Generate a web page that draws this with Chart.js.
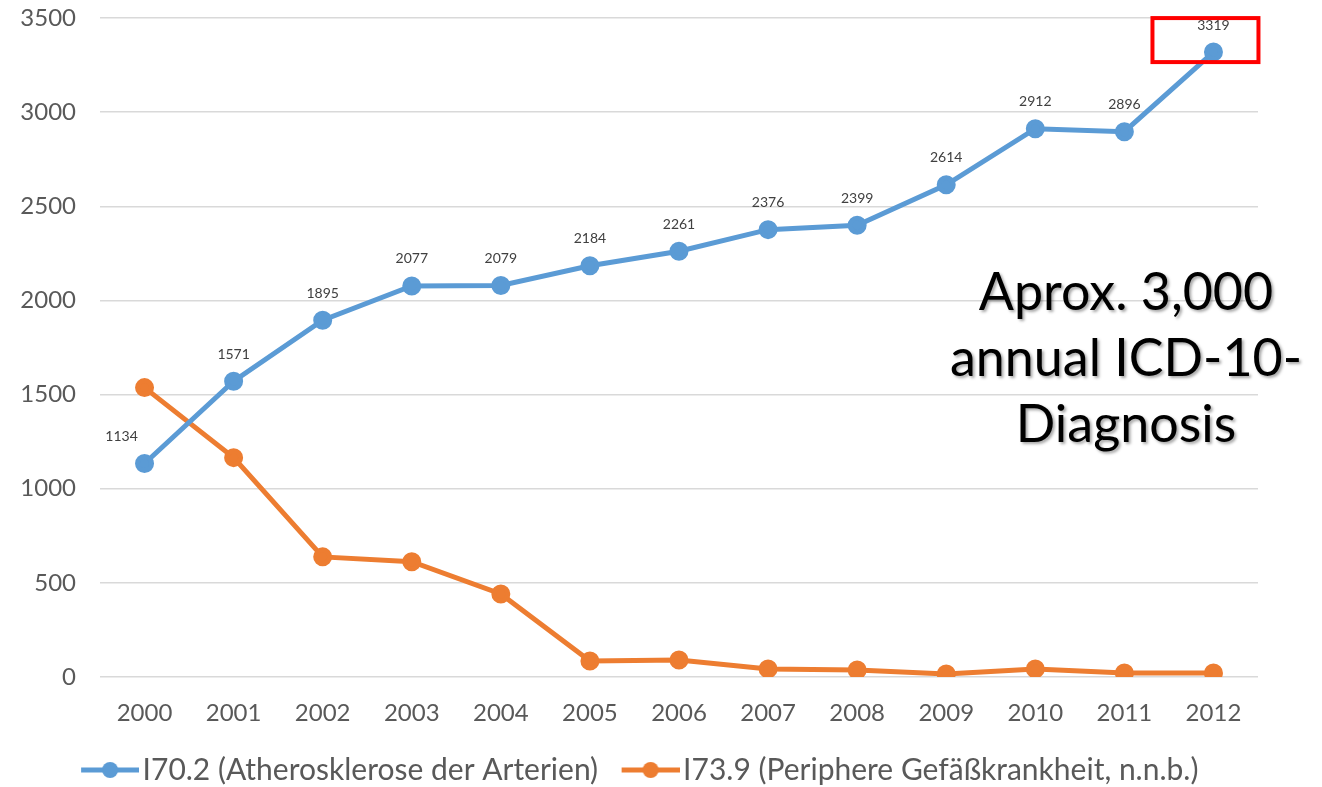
<!DOCTYPE html>
<html>
<head>
<meta charset="utf-8">
<title>I70.2 / I73.9</title>
<script src="https://cdn.jsdelivr.net/npm/chart.js@4.4.1/dist/chart.umd.min.js"></script>
<style>
  html, body { margin: 0; padding: 0; background: #fff; }
  #wrap { width: 1322px; height: 787px; }
</style>
</head>
<body>
<div id="wrap"><canvas id="canvas" width="1322" height="787"></canvas></div>
<script>
// yearly counts of ICD-10 diagnoses
const years = ['2000','2001','2002','2003','2004','2005','2006','2007','2008','2009','2010','2011','2012'];
const athero = [1134, 1571, 1895, 2077, 2079, 2184, 2261, 2376, 2399, 2614, 2912, 2896, 3319];
const peripher = [1537, 1165, 638, 612, 441, 85, 90, 43, 37, 16, 43, 21, 21];
const seriesNames = ['I70.2 (Atherosklerose der Arterien)', 'I73.9 (Periphere Gefäßkrankheit, n.n.b.)'];
const yTicks = [0, 500, 1000, 1500, 2000, 2500, 3000, 3500];
const noteLines = ['Aprox. 3,000', 'annual ICD-10-', 'Diagnosis'];

const BLUE = '#5B9BD5';
const ORANGE = '#ED7D31';
const FONT = 'Lato, "Open Sans", sans-serif';

// little line-with-dot icon for the legend (drawn in the right part of the image)
function legendIcon(color) {
  const c = document.createElement('canvas');
  c.width = 91; c.height = 20;
  const g = c.getContext('2d');
  g.strokeStyle = color;
  g.lineWidth = 5;
  g.beginPath(); g.moveTo(33, 10); g.lineTo(91, 10); g.stroke();
  g.fillStyle = color;
  g.beginPath(); g.arc(62, 10, 8, 0, Math.PI * 2); g.fill();
  return c;
}
const icons = [legendIcon(BLUE), legendIcon(ORANGE)];

// value labels above the blue line, red box on the last point, big note text
const extras = {
  id: 'extras',
  afterDatasetsDraw(chart) {
    const ctx = chart.ctx;
    const pts = chart.getDatasetMeta(0).data;
    ctx.save();
    ctx.font = '14px ' + FONT;
    ctx.fillStyle = '#404040';
    ctx.textAlign = 'center';
    ctx.textBaseline = 'middle';
    pts.forEach((p, i) => {
      const dx = i === 0 ? -23 : 0;
      ctx.fillText(String(athero[i]), p.x + dx, p.y - 27);
    });

    const last = pts[pts.length - 1];
    ctx.strokeStyle = '#FF0000';
    ctx.lineWidth = 4;
    ctx.strokeRect(last.x - 61, last.y - 34, 106, 44);

    const area = chart.chartArea;
    const cx = area.right - 132;
    ctx.font = '52px ' + FONT;
    ctx.fillStyle = '#000';
    ctx.shadowColor = 'rgba(0,0,0,0.35)';
    ctx.shadowOffsetX = 2;
    ctx.shadowOffsetY = 2;
    ctx.shadowBlur = 3;
    ctx.textBaseline = 'alphabetic';
    const base = [310, 376, 442];
    noteLines.forEach((t, i) => ctx.fillText(t, cx, base[i]));
    ctx.restore();
  }
};

const ctx = document.getElementById('canvas').getContext('2d');
new Chart(ctx, {
  type: 'line',
  data: {
    labels: years,
    datasets: [{
      label: seriesNames[0],
      data: athero,
      borderColor: BLUE,
      backgroundColor: BLUE,
      borderWidth: 5,
      pointRadius: 7,
      pointHoverRadius: 7,
      tension: 0
    }, {
      label: seriesNames[1],
      data: peripher,
      borderColor: ORANGE,
      backgroundColor: ORANGE,
      borderWidth: 5,
      pointRadius: 7,
      pointHoverRadius: 7,
      tension: 0
    }]
  },
  options: {
    responsive: false,
    animation: false,
    layout: { padding: { top: 0, right: 64, bottom: -8, left: 0 } },
    plugins: {
      tooltip: { enabled: false },
      legend: {
        position: 'bottom',
        labels: {
          usePointStyle: true,
          pointStyleWidth: 68,
          padding: 2,
          color: '#595959',
          font: { family: FONT, size: 30 },
          generateLabels(chart) {
            const items = Chart.defaults.plugins.legend.labels.generateLabels(chart);
            items.forEach((it, i) => { it.pointStyle = icons[i]; });
            return items;
          }
        }
      }
    },
    scales: {
      x: {
        offset: true,
        grid: { display: false },
        border: { display: false },
        ticks: { color: '#595959', font: { family: FONT, size: 24 }, padding: 14, maxRotation: 0 },
        afterFit(scale) { scale.height = 76; }
      },
      y: {
        min: 0,
        max: 3500,
        afterBuildTicks(scale) { scale.ticks = yTicks.map(v => ({ value: v })); },
        grid: { color: '#d9d9d9', lineWidth: 1.5, drawTicks: false },
        border: { display: false },
        ticks: {
          color: '#595959',
          font: { family: FONT, size: 24 },
          padding: 24,
          callback: v => String(v)
        },
        afterFit(scale) {
          scale.width = 100;
          scale.paddingTop = 18;
          scale.paddingBottom = 0;
        }
      }
    }
  },
  plugins: [extras]
});
</script>
</body>
</html>
